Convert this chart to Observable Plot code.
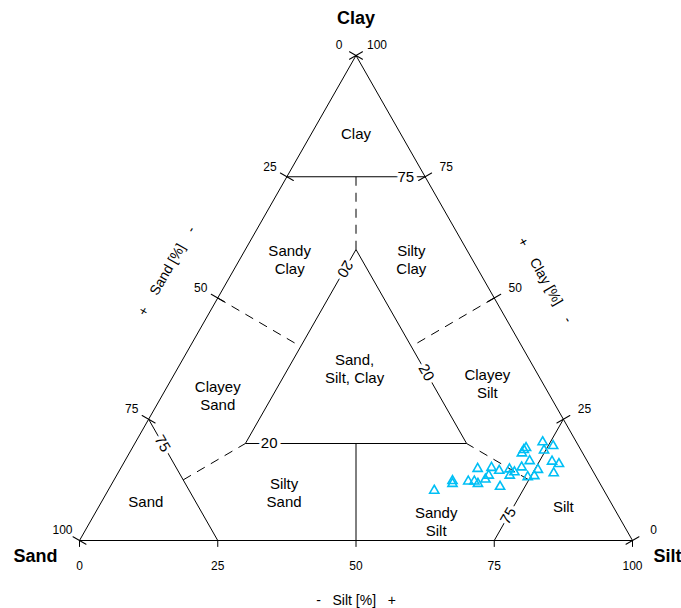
<!DOCTYPE html>
<html>
<head>
<meta charset="utf-8">
<script src="https://cdn.jsdelivr.net/npm/d3@7"></script>
<script src="https://cdn.jsdelivr.net/npm/@observablehq/plot@0.6"></script>
<style>
  html, body { margin: 0; padding: 0; background: #fff; }
  #chart svg { display: block; font-family: "Liberation Sans", Arial, sans-serif; }
</style>
</head>
<body>
<div id="chart"></div>
<script>
// Sample compositions (percent): sand, silt, clay
const sampleSand = [30.7, 26.4, 26.7, 23.6, 22.5, 22.1, 20.6, 20.3, 19.3, 18.0, 16.9, 18.4, 14.9, 15.5, 14.3, 12.5, 11.0, 10.3, 9.7, 10.4, 12.4, 11.1, 9.8, 6.1, 6.7, 4.6, 6.4, 5.4, 7.3];
const sampleSilt = [59.0, 61.3, 61.6, 64.2, 65.3, 66.2, 64.6, 67.1, 67.3, 67.0, 68.7, 70.5, 70.4, 71.1, 71.6, 72.4, 71.0, 71.0, 71.2, 73.2, 74.5, 75.6, 75.6, 73.6, 74.7, 75.9, 77.3, 78.8, 78.8];
const sampleClay = [10.3, 12.3, 11.7, 12.2, 12.2, 11.7, 14.8, 12.6, 13.4, 15.0, 14.4, 11.1, 14.7, 13.4, 14.1, 15.1, 18.0, 18.7, 19.1, 16.4, 13.1, 13.3, 14.6, 20.3, 18.6, 19.5, 16.3, 15.8, 13.9];

// Class boundaries, each a pair of [sand, silt, clay] compositions
const solidBoundaries = [
  [[100, 0, 0], [0, 100, 0]],
  [[0, 100, 0], [0, 0, 100]],
  [[0, 0, 100], [100, 0, 0]],
  [[25, 0, 75], [0, 25, 75]],
  [[20, 20, 60], [60, 20, 20]],
  [[60, 20, 20], [20, 60, 20]],
  [[20, 60, 20], [20, 20, 60]],
  [[75, 0, 25], [75, 25, 0]],
  [[0, 75, 25], [25, 75, 0]],
  [[40, 40, 20], [50, 50, 0]]
];
const dashedBoundaries = [
  [[12.5, 12.5, 75], [20, 20, 60]],
  [[50, 0, 50], [40, 20, 40]],
  [[0, 50, 50], [20, 40, 40]],
  [[75, 12.5, 12.5], [60, 20, 20]],
  [[12.5, 75, 12.5], [20, 60, 20]]
];

// Class names and a representative composition for each
const classNames = ["Clay", "Sandy\nClay", "Silty\nClay", "Sand,\nSilt, Clay", "Clayey\nSand", "Clayey\nSilt", "Sand", "Silty\nSand", "Sandy\nSilt", "Silt"];
const classSand = [8, 33, 11, 32.5, 60, 10, 84, 58, 33.5, 9];
const classSilt = [8, 9, 31, 32, 10, 57.5, 8, 32, 62.5, 84];

// Values written on the boundary lines
const boundaryValues = ["75", "20", "20", "20", "75", "75"];
const boundarySand = [3.5, 55.7, 24, 20, 75, 19.9];
const boundarySilt = [21.5, 24.3, 20, 45.4, 5, 75];

// Axis ticks
const tickValues = [0, 25, 50, 75, 100];
const tickLabels = ["0", "25", "50", "75", "100"];

// Ternary composition -> plane coordinates
const px = (sand, silt, clay) => silt + clay / 2;
const py = (sand, silt, clay) => clay;

const toLinks = (segs) => segs.map(([a, b]) => ({x1: px(...a), y1: py(...a), x2: px(...b), y2: py(...b)}));

const samples = sampleSand.map((s, i) => ({sand: s, silt: sampleSilt[i], clay: sampleClay[i]}));
const classes = classNames.map((name, i) => {
  const sand = classSand[i], silt = classSilt[i], clay = 100 - sand - silt;
  return {name, x: px(sand, silt, clay), y: py(sand, silt, clay)};
});
const boundaryRotate = [0, 0, 120, 60, 60, -60];
const boundaryText = boundaryValues.map((v, i) => {
  const sand = boundarySand[i], silt = boundarySilt[i], clay = 100 - sand - silt;
  return {v, x: px(sand, silt, clay), y: py(sand, silt, clay), r: boundaryRotate[i]};
});

// Tick anchors on each edge
const sandTicks = tickValues.map((v, i) => ({x: px(v, 0, 100 - v), y: py(v, 0, 100 - v), label: tickLabels[i]}));
const clayTicks = tickValues.map((v, i) => ({x: px(0, 100 - v, v), y: py(0, 100 - v, v), label: tickLabels[i]}));
const siltTicks = tickValues.map((v, i) => ({x: px(100 - v, v, 0), y: py(100 - v, v, 0), label: tickLabels[i]}));

const line = {draw(context, l) { context.moveTo(0, 0); context.lineTo(0, -l); }};

const font = "Liberation Sans, Arial, sans-serif";
const sp = "\u00a0\u00a0\u00a0";
const sp4 = "\u00a0\u00a0\u00a0\u00a0";

const vertexLabel = (name, sand, silt, clay, dx, dy) =>
  Plot.text([name], {x: () => px(sand, silt, clay), y: () => py(sand, silt, clay), text: (d) => d, dx, dy, fontSize: 18, fontWeight: "bold", fill: "black"});

const chart = Plot.plot({
  width: 681,
  height: 608,
  marginLeft: 79,
  marginRight: 49,
  marginTop: 55,
  marginBottom: 68,
  x: {domain: [0, 100], axis: null},
  y: {domain: [0, 100], axis: null},
  style: {fontFamily: font, background: "white"},
  marks: [
    Plot.link(toLinks(dashedBoundaries), {x1: "x1", y1: "y1", x2: "x2", y2: "y2", stroke: "black", strokeWidth: 1, strokeDasharray: "9,7"}),
    Plot.link(toLinks(solidBoundaries), {x1: "x1", y1: "y1", x2: "x2", y2: "y2", stroke: "black", strokeWidth: 1}),
    // edge ticks
    Plot.vector(sandTicks, {x: "x", y: "y", length: 15, rotate: 120, anchor: "middle", shape: line, stroke: "black", strokeWidth: 1}),
    Plot.vector(clayTicks, {x: "x", y: "y", length: 15, rotate: 60, anchor: "middle", shape: line, stroke: "black", strokeWidth: 1}),
    Plot.vector(siltTicks, {x: "x", y: "y", length: 6, rotate: 180, anchor: "start", shape: line, stroke: "black", strokeWidth: 1}),
    // tick labels
    Plot.text(sandTicks, {x: "x", y: "y", text: "label", dx: -17, dy: -10, fontSize: 12, fill: "black"}),
    Plot.text(clayTicks, {x: "x", y: "y", text: "label", dx: 21, dy: -10, fontSize: 12, fill: "black"}),
    Plot.text(siltTicks, {x: "x", y: "y", text: "label", dy: 26, fontSize: 12, fill: "black"}),
    // boundary values
    Plot.text(boundaryText, {x: "x", y: "y", text: "v", rotate: "r", fontSize: 15, fill: "black", stroke: "white", strokeWidth: 7}),
    // class names
    Plot.text(classes, {x: "x", y: "y", text: "name", fontSize: 15, lineHeight: 1.2, fill: "black"}),
    // samples
    Plot.dot(samples, {x: (d) => px(d.sand, d.silt, d.clay), y: (d) => py(d.sand, d.silt, d.clay), symbol: "triangle", r: 3.4, stroke: "#00bff5", strokeWidth: 1.6, fill: "none"}),
    // vertex names
    vertexLabel("Clay", 0, 0, 100, 0, -37),
    vertexLabel("Sand", 100, 0, 0, -44, 16),
    vertexLabel("Silt", 0, 100, 0, 35, 16),
    // axis titles
    Plot.text([{x: px(50, 50, 0), y: py(50, 50, 0)}], {x: "x", y: "y", text: () => "-" + sp + "Silt [%]" + sp + "+", dy: 60, fontSize: 14, fill: "black"}),
    Plot.text([{x: px(50, 0, 50), y: py(50, 0, 50)}], {x: "x", y: "y", text: () => "+" + sp4 + "Sand [%]" + sp4 + "-", dx: -51, dy: -27, rotate: -60, fontSize: 14, fill: "black"}),
    Plot.text([{x: px(0, 50, 50), y: py(0, 50, 50)}], {x: "x", y: "y", text: () => "+" + sp4 + "Clay [%]" + sp4 + "-", dx: 51, dy: -18, rotate: 60, fontSize: 14, fill: "black"})
  ]
});

document.getElementById("chart").appendChild(chart);
</script>
</body>
</html>
